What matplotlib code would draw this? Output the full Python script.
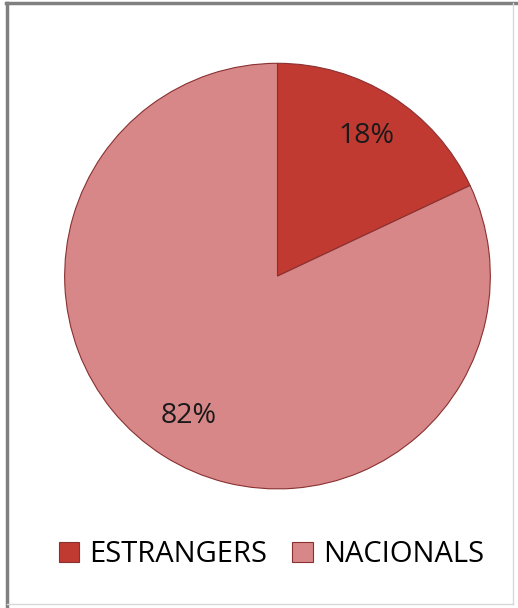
import matplotlib.pyplot as plt
from matplotlib.lines import Line2D

labels = ['ESTRANGERS', 'NACIONALS']
shares = [18, 82]
colors = ['#c13a32', '#d78787']

plt.rcParams['font.family'] = ['Open Sans', 'DejaVu Sans']

fig = plt.figure(figsize=(5.18, 6.08), dpi=100)
ax = fig.add_axes([0.1207, 0.1924, 0.830, 0.707])

wedges, texts, autotexts = ax.pie(
    shares, colors=colors, startangle=90, counterclock=False,
    autopct='%1.0f%%', pctdistance=0.78, radius=1,
    wedgeprops=dict(edgecolor='#8a3030', linewidth=0.8),
    textprops=dict(fontsize=20.5, color='#1a1a1a'))
ax.set_xlim(-1.01, 1.01)
ax.set_ylim(-1.01, 1.01)
ax.set_aspect('auto')

# legend below the pie
fig.legend(wedges, labels, loc='center', bbox_to_anchor=(0.524, 0.088),
           ncol=2, frameon=False, fontsize=21, handlelength=0.7,
           handleheight=0.7, handletextpad=0.35, columnspacing=0.85,
           borderpad=0)

# chart border: dark top/left, light right/bottom
fig.add_artist(Line2D([0.012, 1.0], [0.995, 0.995], color='#808080', lw=2.5))
fig.add_artist(Line2D([0.014, 0.014], [0.0, 0.995], color='#808080', lw=2.5))
fig.add_artist(Line2D([0.99, 0.99], [0.006, 0.995], color='#d8d8d8', lw=1))
fig.add_artist(Line2D([0.014, 0.99], [0.006, 0.006], color='#d8d8d8', lw=1))

fig.savefig('out.png', dpi=100)
